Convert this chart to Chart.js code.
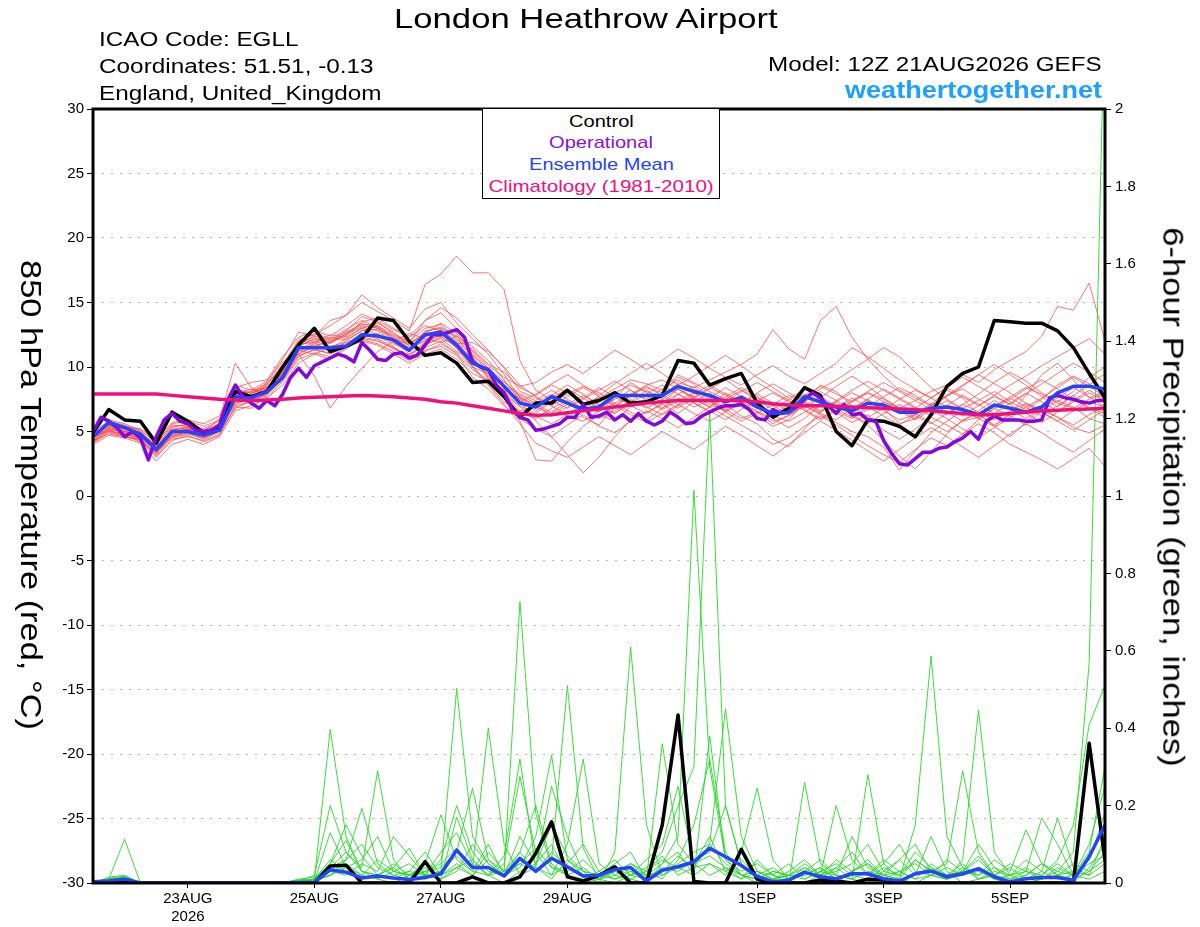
<!DOCTYPE html>
<html>
<head>
<meta charset="utf-8">
<title>London Heathrow Airport - GEFS plume</title>
<script src="https://cdn.jsdelivr.net/npm/chart.js@4.4.0/dist/chart.umd.min.js"></script>
<style>
  html, body { margin: 0; padding: 0; background: #fff; }
  #wrap { position: relative; width: 1200px; height: 927px; overflow: hidden; font-family: "Liberation Sans", Arial, sans-serif; }
  #chart { position: absolute; left: 0; top: 0; }
  .lbl { position: absolute; white-space: nowrap; color: #000; }
  #legendBox { position: absolute; left: 482px; top: 108px; width: 236px; height: 89px; border: 1.5px solid #000; background: #fff; }
</style>
</head>
<body>
<div id="wrap">
  <canvas id="chart" width="1200" height="927"></canvas>
  <div id="legendBox"></div>
  <div class="lbl" id="title">London Heathrow Airport</div>
  <div class="lbl" id="icao">ICAO Code: EGLL</div>
  <div class="lbl" id="coords">Coordinates: 51.51, -0.13</div>
  <div class="lbl" id="region">England, United_Kingdom</div>
  <div class="lbl" id="model">Model: 12Z 21AUG2026 GEFS</div>
  <div class="lbl" id="site">weathertogether.net</div>
  <div class="lbl" id="legControl">Control</div>
  <div class="lbl" id="legOper">Operational</div>
  <div class="lbl" id="legMean">Ensemble Mean</div>
  <div class="lbl" id="legClim">Climatology (1981-2010)</div>
  <div class="lbl" id="yTitle">850 hPa Temperature (red, °C)</div>
  <div class="lbl" id="y2Title">6-hour Precipitation (green, inches)</div>
</div>
<script>
// forecast hours of the date ticks (00Z) and their labels
const tickHours = [36, 84, 132, 180, 252, 300, 348];
const tickLabels = [['23AUG', '2026'], '25AUG', '27AUG', '29AUG', '1SEP', '3SEP', '5SEP'];

// 850 hPa temperature, 6-hourly from 12Z 21AUG
const controlTemp = [4.9,6.7,5.9,5.8,4.1,6.5,5.8,4.9,5.3,
  8.1,7.7,8.1,10.0,11.7,13.0,11.2,11.6,12.2,13.8,13.6,12.0,10.9,11.1,
  10.3,8.8,8.9,7.7,6.1,7.2,7.2,8.2,7.1,7.4,8.0,7.2,7.3,7.8,10.5,10.3,8.6,9.1,9.5,7.2,6.1,6.8,
  8.4,7.8,5.0,3.9,5.9,5.8,5.4,4.6,6.3,8.5,9.5,10.0,13.6,13.5,13.4,13.4,12.8,11.5,9.5,7.6];

const meanTemp = [4.6,5.7,5.3,4.8,3.6,5.0,5.0,4.7,5.1,
  7.7,7.6,8.1,9.2,11.5,11.5,11.5,11.6,12.5,12.4,12.1,11.3,12.5,12.7,
  11.7,10.3,9.8,8.5,7.2,6.9,7.7,7.2,6.7,6.9,7.8,7.8,7.8,7.8,8.5,8.1,7.8,7.3,7.65,6.9,6.4,6.5,
  7.7,7.3,6.9,6.6,7.2,7.05,6.5,6.5,6.8,6.9,6.7,6.3,7.05,6.8,6.5,6.9,8.0,8.5,8.5,8.3];

const climTemp = [7.9,7.9,7.9,7.9,7.9,7.8,7.7,7.6,7.5,
  7.45,7.4,7.45,7.5,7.6,7.65,7.7,7.75,7.8,7.75,7.7,7.6,7.5,7.3,
  7.2,7.0,6.8,6.6,6.4,6.25,6.3,6.45,6.6,6.75,6.9,7.05,7.2,7.3,7.4,7.4,7.4,7.4,7.4,7.3,7.15,7.05,
  7.0,7.0,6.95,6.9,6.85,6.8,6.75,6.7,6.6,6.5,6.4,6.3,6.3,6.4,6.5,6.6,6.65,6.7,6.75,6.8];

// operational run, 3-hourly
const operTemp = [5.0,6.1,5.8,5.3,4.6,5.0,4.5,2.8,4.6,5.9,6.4,5.8,5.6,5.1,5.0,
  5.1,5.5,7.4,8.6,7.7,7.2,6.8,7.4,7.0,7.9,9.2,9.9,9.2,10.1,10.4,
  10.7,11.0,10.8,10.4,11.9,11.3,10.6,10.5,11.0,11.1,10.7,10.9,11.7,12.5,12.5,
  12.7,12.9,12.3,10.4,10.0,9.8,8.6,8.0,6.7,6.1,5.9,5.1,5.2,5.4,5.6,
  6.1,6.1,7.1,6.1,6.2,6.5,5.9,6.3,5.8,6.4,5.8,5.5,5.8,6.5,6.1,
  5.6,5.7,6.2,6.5,6.8,7.0,7.0,7.1,6.7,6.0,5.9,6.7,6.4,6.5,
  6.9,7.5,8.0,7.6,7.0,6.4,7.1,6.3,6.4,5.9,5.8,4.3,3.3,2.5,2.4,
  2.9,3.4,3.4,3.7,3.8,4.2,4.5,5.0,4.4,5.8,6.2,5.9,5.9,5.9,5.8,
  5.8,5.9,7.6,7.8,7.6,7.5,7.3,7.2,7.4,7.4];

// ensemble members, 6-hourly
const memberTemp = [
  [4.2,5.0,4.8,4.5,3.2,4.6,4.9,4.4,5.0, 7.2,7.5,8.3,9.8,11.9,12.3,11.8,12.6,13.4,13.0,12.4,11.9,13.6,14.2,
   13.0,11.0,9.6,8.0,6.5,6.0,6.8,7.4,6.1,5.5,6.9,7.8,8.4,8.0,9.2,8.7,7.6,6.8,7.3,6.2,5.4,5.9,
   7.3,8.6,8.1,7.0,6.1,6.8,5.6,6.0,7.1,8.2,7.6,6.3,5.5,6.4,7.8,9.4,10.3,9.0,7.6,8.1],
  [4.8,5.4,5.1,4.6,3.9,5.3,5.6,5.2,5.8, 8.0,7.4,8.6,10.2,12.1,12.5,13.2,14.0,15.0,14.3,13.6,12.8,16.4,17.2,
   18.6,17.3,17.3,16.0,10.5,8.2,7.4,8.1,7.0,6.5,7.6,8.8,8.0,7.2,8.3,7.5,6.9,8.0,7.2,6.6,5.8,6.2,
   7.0,6.4,5.9,6.8,7.5,6.6,5.9,6.3,7.2,6.5,5.8,6.1,7.0,7.6,6.9,6.2,7.0,7.8,6.8,6.4],
  [4.0,4.7,4.5,4.1,2.7,4.0,4.4,4.0,4.6, 6.6,7.0,7.6,8.6,10.3,11.0,10.6,11.4,12.2,12.0,11.5,10.8,11.3,11.6,
   10.9,9.8,9.0,7.6,5.8,2.8,2.7,4.2,5.4,6.3,5.8,6.9,7.4,6.8,7.9,8.5,7.4,6.6,7.8,7.2,6.0,5.3,
   6.0,7.1,6.5,5.7,6.3,5.1,4.4,5.2,6.1,5.5,4.8,5.9,6.8,6.2,5.5,6.6,7.4,6.9,6.0,5.6],
  [4.5,5.3,5.0,4.7,3.4,4.8,5.1,4.8,5.4, 7.4,7.9,8.8,10.4,11.0,9.3,6.8,8.5,9.9,11.2,12.0,12.6,12.2,11.9,
   12.4,11.6,10.5,9.0,7.4,5.8,4.6,3.2,1.8,3.0,4.6,5.9,6.5,7.1,6.4,7.3,8.0,7.1,6.2,5.6,4.4,3.8,
   5.2,6.5,7.3,6.2,5.5,4.3,3.1,2.1,3.4,4.8,5.9,6.4,5.4,4.6,5.7,6.8,6.1,5.3,4.9,5.5],
  [4.4,5.8,5.5,5.0,3.8,5.2,5.3,5.0,5.5, 8.3,8.0,8.4,9.6,11.6,12.2,12.0,12.8,13.9,13.5,12.6,12.0,13.0,13.3,
   12.1,11.4,10.2,9.6,8.4,7.8,8.6,8.0,7.2,7.6,8.3,9.0,8.7,8.2,9.4,8.8,8.1,7.5,8.2,7.6,7.0,7.2,
   7.8,8.5,7.9,7.3,8.0,7.5,6.8,7.4,8.1,8.6,9.4,8.8,9.8,10.5,11.2,12.4,14.7,14.4,16.5,12.0],
  [4.9,5.6,5.3,4.9,4.0,5.5,5.4,4.9,5.2, 7.9,8.3,8.0,9.0,11.2,11.8,12.3,12.1,12.8,13.2,12.3,11.5,12.0,12.4,
   11.5,10.0,9.5,8.8,7.9,7.4,8.2,7.5,6.8,7.4,8.0,8.6,8.1,7.6,8.8,8.4,9.0,9.6,10.2,11.0,12.9,11.4,
   10.6,13.6,14.7,12.3,10.6,9.3,8.2,7.6,7.0,7.8,8.3,7.5,6.9,7.7,8.4,7.9,7.2,6.8,7.5,7.9],
  [4.3,5.2,4.9,4.3,3.0,4.4,4.6,4.3,4.8, 6.9,6.8,7.8,9.1,10.9,11.3,11.1,12.0,12.8,12.9,12.1,11.0,11.9,12.5,
   11.8,11.9,11.2,10.0,8.6,7.7,7.0,6.2,5.8,6.6,7.2,6.5,5.9,6.8,7.6,6.9,7.4,6.7,6.0,6.5,5.6,6.3,
   7.0,6.3,5.7,5.0,4.6,3.8,2.0,3.5,4.9,5.8,6.6,6.0,5.4,6.3,7.1,6.5,5.8,6.6,7.3,6.9],
  [4.7,5.5,5.2,4.8,3.7,5.1,5.3,4.9,5.3, 7.6,8.1,8.5,9.4,11.7,12.0,11.6,11.9,12.4,12.6,11.8,11.2,12.8,13.0,
   12.3,10.8,9.2,8.0,7.0,6.4,7.3,7.9,8.5,8.0,7.2,7.9,8.6,9.0,8.3,7.7,8.4,7.8,7.1,6.5,6.1,6.9,
   7.6,8.3,9.0,9.8,10.6,11.5,10.8,9.6,8.4,7.5,6.8,7.4,8.1,7.3,6.7,7.5,8.6,9.3,8.7,7.8],
  [4.1,4.9,4.6,4.4,3.1,4.3,4.7,4.2,4.7, 7.0,7.3,8.0,9.3,11.0,11.6,11.4,12.2,13.0,12.5,11.6,10.6,11.5,12.0,
   11.0,9.2,8.3,7.0,6.0,5.2,4.6,5.5,6.3,5.4,4.9,5.8,6.6,6.0,5.3,6.1,6.9,6.2,5.5,4.8,4.0,4.5,
   5.4,6.2,5.5,4.7,3.9,3.2,2.6,3.6,4.5,3.9,4.8,5.6,4.9,4.0,3.4,2.8,2.1,2.9,3.7,2.3],
  [4.6,5.9,5.6,5.1,4.2,5.6,5.8,5.4,5.9, 8.4,8.8,9.0,10.8,12.3,12.8,12.4,13.2,14.1,13.6,12.9,12.3,13.2,12.8,
   11.4,10.1,8.7,7.3,6.6,6.9,7.8,8.6,7.9,7.0,6.4,7.3,8.2,7.5,6.8,7.6,8.3,9.0,8.2,7.4,6.7,7.5,
   8.3,7.6,6.8,6.1,6.9,7.7,8.4,7.8,7.0,6.3,7.1,7.9,8.8,9.6,8.9,8.0,7.3,8.1,9.2,10.0],
  [4.5,5.1,4.7,4.2,3.3,4.9,5.2,5.0,6.0, 10.3,8.4,7.6,8.9,10.6,11.1,10.8,11.5,12.0,11.7,11.0,10.3,11.0,11.4,
   10.6,9.5,8.9,8.2,7.6,7.1,6.5,7.3,6.7,6.0,6.6,7.4,6.9,6.3,7.0,7.7,7.1,6.6,7.3,6.8,6.2,5.8,
   6.5,7.2,6.6,6.0,6.7,7.3,6.8,6.2,5.6,6.4,7.1,6.5,5.9,6.6,7.2,6.7,6.1,5.5,6.3,7.0],
  [5.0,5.8,5.4,5.2,4.4,5.7,5.9,5.6,6.2, 8.6,8.2,8.9,10.6,12.7,12.4,13.6,14.0,15.6,14.6,13.8,13.0,14.5,15.0,
   13.4,12.2,11.0,9.4,7.6,6.8,7.6,8.3,7.6,6.8,7.5,8.2,7.4,6.7,7.4,8.0,7.3,6.5,5.8,6.4,7.1,7.8,
   7.2,6.5,7.3,8.0,7.4,6.7,7.5,8.2,7.6,6.9,6.2,7.0,7.7,7.1,6.4,5.7,6.5,7.3,8.0,7.4],
  [4.3,5.3,4.9,4.6,3.5,4.5,4.8,4.5,5.0, 7.3,7.7,8.2,9.0,11.4,11.9,12.5,12.3,13.0,13.4,12.7,11.6,12.3,12.9,
   12.0,10.9,9.9,8.3,7.3,7.0,6.2,6.9,7.6,8.4,7.7,7.0,6.4,7.2,7.9,7.2,6.6,5.9,6.7,7.4,8.0,7.3,
   6.6,5.9,6.6,7.4,8.1,8.8,8.1,7.4,6.7,6.0,5.2,4.5,5.3,6.1,6.9,7.6,8.4,9.2,8.5,7.7],
  [4.7,5.0,4.6,4.4,3.6,4.7,5.0,4.7,5.1, 7.5,7.2,7.9,9.5,11.1,11.6,12.0,12.5,13.1,12.8,11.9,11.3,12.1,12.6,
   11.9,10.4,9.6,8.6,7.8,7.2,7.9,7.3,6.6,7.3,8.1,7.5,6.8,7.5,8.3,7.6,6.9,7.7,8.4,7.7,7.0,6.3,
   7.0,7.7,7.0,6.3,5.6,6.4,7.1,6.4,5.7,5.0,5.8,6.6,7.4,6.7,6.0,6.8,7.6,8.4,7.7,6.9],
  [4.4,5.6,5.3,4.9,3.9,5.0,5.1,4.8,5.2, 7.8,7.7,8.2,9.2,11.8,11.9,11.2,11.7,12.6,12.2,11.5,10.9,11.8,12.2,
   11.2,10.6,9.4,8.4,7.5,6.6,7.4,6.8,7.5,8.2,8.9,8.2,7.5,8.3,9.0,8.3,7.6,8.4,7.7,7.0,6.3,7.1,
   7.9,7.2,6.5,7.3,8.0,7.3,6.6,5.9,6.7,7.4,6.7,6.0,6.8,7.5,8.3,9.0,8.3,7.5,6.8,6.1],
  [4.6,5.4,5.2,4.8,3.3,4.7,5.0,4.6,5.4, 7.1,7.6,8.7,9.9,12.0,12.6,12.2,12.9,13.6,13.1,12.2,11.7,12.6,13.4,
   12.6,11.2,9.9,8.9,7.7,6.9,6.4,7.1,7.8,7.1,6.4,7.2,7.9,8.6,7.9,7.2,6.5,7.3,8.1,8.8,8.1,7.4,
   6.7,6.0,6.8,7.6,6.9,6.2,5.5,6.3,7.0,7.8,8.6,9.4,8.7,8.0,7.2,6.5,5.8,5.1,5.9,6.7],
  [4.2,5.1,4.8,4.5,3.7,4.9,5.2,4.7,5.1, 7.7,7.8,8.1,9.6,11.3,11.0,11.5,11.8,12.3,12.1,11.4,10.9,11.7,12.3,
   11.6,10.7,9.1,7.9,6.9,6.2,5.6,6.3,7.0,7.7,7.0,6.3,5.7,6.4,7.1,6.4,5.8,6.5,7.2,7.9,7.2,6.6,
   7.3,8.1,7.4,6.7,7.5,8.3,7.6,6.9,6.2,7.0,7.8,7.1,6.4,7.2,8.0,7.3,6.6,7.4,8.2,7.5],
  [4.8,5.7,5.4,5.1,4.1,5.4,5.5,5.1,5.6, 8.1,8.0,8.3,9.7,11.9,12.1,11.9,12.4,13.5,13.8,13.0,12.4,13.6,14.6,
   13.8,12.5,11.3,9.9,8.1,7.6,7.0,7.7,8.4,7.7,7.0,7.8,8.5,7.8,7.1,7.9,8.6,7.9,7.2,8.0,8.7,8.0,
   7.3,6.6,7.4,8.2,8.9,8.2,7.5,6.8,7.6,8.4,7.7,7.0,7.8,8.6,9.3,10.1,10.8,11.5,12.2,11.0],
  [4.5,5.5,5.0,4.7,3.5,5.0,5.2,4.9,5.4, 7.8,7.9,8.4,9.5,11.4,11.7,11.9,12.6,13.2,13.0,12.2,11.8,12.7,13.1,
   12.4,11.3,10.1,9.2,8.5,8.8,9.6,10.2,9.5,10.4,11.3,10.6,9.8,10.5,11.4,10.7,9.9,9.2,8.6,9.4,10.1,9.3,
   8.7,9.5,10.3,11.5,10.8,9.9,9.0,8.3,7.6,8.4,9.2,8.5,7.8,7.1,7.9,8.7,9.5,10.3,9.6,8.8],
  [4.3,4.8,4.6,4.3,3.4,4.6,4.9,4.5,5.0, 6.8,7.4,7.9,9.0,10.8,11.4,11.0,11.6,12.1,11.8,11.2,10.5,11.2,11.8,
   11.1,10.0,8.6,7.1,5.6,4.1,3.5,3.0,3.8,4.6,3.9,3.2,4.1,5.0,4.3,3.6,4.5,5.4,4.7,3.9,3.1,4.0,
   4.9,5.8,5.1,4.3,3.5,2.7,3.6,4.5,5.3,4.6,3.8,3.0,3.9,4.8,5.6,4.9,4.1,3.4,4.3,5.2],
  [4.6,5.2,5.0,4.6,3.8,5.1,5.4,5.0,5.5, 7.9,8.1,8.7,10.0,11.8,12.4,12.1,12.7,13.3,13.2,12.5,11.9,12.4,12.9,
   11.9,10.7,9.3,8.1,7.3,7.9,8.7,9.4,8.6,7.8,8.7,9.5,10.3,9.5,8.6,9.3,10.1,10.9,10.1,9.2,8.4,7.6,
   6.8,7.6,8.5,9.3,8.5,7.6,6.8,6.0,6.9,7.7,8.5,9.4,10.2,9.4,8.6,7.7,6.9,7.8,8.6,9.5]
];

// 6-hour precipitation (inches)
const controlPrecip = [0,0,0.004,0,0,0,0,0,0,
  0,0,0,0,0,0,0.044,0.046,0,0,0,0,0.055,0,
  0,0.016,0,0,0.016,0.077,0.158,0.016,0.005,0.02,0.042,0,0,0.15,0.434,0.004,0,0,0.087,0.01,0,0,
  0,0.008,0.005,0,0.01,0.008,0,0,0,0,0,0,0,0,0,0,0,0,0.361,0.059];

const meanPrecip = [0.003,0.005,0.01,0,0,0,0,0,0,
  0,0,0,0,0.001,0.002,0.034,0.028,0.013,0.018,0.013,0.009,0.014,0.024,
  0.085,0.04,0.04,0.018,0.064,0.03,0.064,0.042,0.018,0.02,0.035,0.04,0.005,0.033,0.042,0.055,0.09,0.068,0.045,0.017,0.003,0.007,
  0.028,0.016,0.011,0.024,0.024,0.011,0.005,0.024,0.031,0.016,0.024,0.037,0.016,0.003,0.011,0.014,0.014,0.007,0.068,0.15];

const memberPrecip = [
  [0,0.01,0.113,0,0,0,0,0,0, 0,0,0,0,0,0.01,0.397,0.12,0.03,0.01,0,0.02,0.04,0.01,
   0.17,0.06,0.02,0,0.03,0.05,0.1,0.02,0,0.01,0.03,0.01,0,0.05,0.12,1.015,0.3,0.06,0.02,0,0.01,0,
   0,0.02,0.04,0.01,0,0.03,0.06,0.02,0.12,0.03,0,0.01,0.02,0,0,0.01,0.03,0.02,0.08,0.3],
  [0,0.015,0.02,0,0,0,0,0,0, 0,0,0,0,0.005,0.02,0.2,0.08,0.04,0.29,0.06,0.01,0.03,0.05,
   0.09,0.04,0.4,0.1,0.02,0.04,0.01,0.06,0.03,0,0.08,0.61,0.15,0.02,0.05,0.08,0.1,0.45,0.12,0.03,0.01,0.02,
   0.04,0.01,0,0.03,0.05,0.01,0,0.02,0.04,0.01,0.06,0.447,0.08,0.02,0,0.01,0.02,0,0.04,0.1],
  [0,0.01,0.015,0,0,0,0,0,0, 0,0,0,0,0,0.01,0.05,0.15,0.07,0.02,0.04,0.09,0.02,0.03,
   0.503,0.12,0.05,0.02,0.08,0.03,0.06,0.51,0.09,0.01,0,0.02,0.04,0.08,0.2,0.3,1.22,0.2,0.05,0.01,0,0.01,
   0.03,0.06,0.02,0.01,0.28,0.05,0.01,0,0.02,0.01,0.03,0.07,0.02,0,0.01,0.03,0.01,0.02,0.1,0.25],
  [0,0.005,0.01,0,0,0,0,0,0, 0,0,0,0,0.01,0.015,0.04,0.06,0.193,0.05,0.02,0.01,0.06,0.02,
   0.05,0.02,0.08,0.03,0.727,0.18,0.04,0.02,0.01,0.03,0.06,0.02,0.01,0.36,0.1,0.05,0.12,0.03,0.01,0.06,0.02,0,
   0.26,0.05,0.02,0.01,0.03,0.02,0.06,0.1,0.03,0.01,0.02,0.04,0.01,0,0.02,0.05,0.03,0.08,0.57,2.3],
  [0,0.01,0.01,0,0,0,0,0,0, 0,0,0,0,0,0.005,0.13,0.04,0.02,0.06,0.03,0.02,0.05,0.176,
   0.06,0.03,0.02,0.05,0.275,0.08,0.02,0.1,0.32,0.05,0.02,0.01,0.03,0.07,0.02,0.04,0.05,0.02,0.08,0.245,0.06,0.01,
   0.02,0.04,0.01,0.03,0.06,0.02,0.01,0.15,0.587,0.12,0.04,0.01,0.02,0.05,0.03,0.168,0.1,0.02,0.01,0.03],
  [0,0.01,0.012,0,0,0,0,0,0, 0,0,0,0,0,0.01,0.05,0.11,0.03,0.02,0.05,0.02,0.03,0.04,
   0.08,0.245,0.06,0.02,0.04,0.12,0.33,0.06,0.02,0.01,0.04,0.02,0.06,0.1,0.25,0.05,0.02,0.04,0.01,0.03,0.02,0.05,
   0.01,0.03,0.05,0.02,0.01,0.04,0.02,0.06,0.03,0.05,0.29,0.08,0.02,0.04,0.01,0.02,0.06,0.15,0.41,0.51],
  [0,0.008,0.01,0,0,0,0,0,0, 0,0,0,0,0,0,0.03,0.02,0.05,0.03,0.12,0.07,0.02,0.01,
   0.04,0.02,0.06,0.03,0.08,0.2,0.05,0.02,0.04,0.01,0.02,0.05,0.03,0.01,0.06,0.15,0.32,0.08,0.02,0.01,0.03,0.02,
   0.05,0.02,0.2,0.06,0.02,0.01,0.03,0.05,0.02,0.01,0.04,0.02,0.06,0.03,0.137,0.05,0.02,0.01,0.03,0.06],
  [0,0.01,0.015,0,0,0,0,0,0, 0,0,0,0,0.005,0.01,0.02,0.06,0.1,0.04,0.02,0.03,0.02,0.08,
   0.13,0.05,0.02,0.07,0.32,0.04,0.25,0.12,0.03,0.02,0.01,0.03,0.02,0.05,0.08,0.02,0.38,0.06,0.03,0.05,0.02,0.01,
   0.03,0.01,0.04,0.08,0.02,0.06,0.03,0.01,0.05,0.02,0.03,0.1,0.04,0.02,0.06,0.03,0.168,0.04,0.02,0.12],
  [0,0.005,0.01,0,0,0,0,0,0, 0,0,0,0,0,0.005,0.02,0.05,0.02,0.01,0.03,0.02,0.01,0.03,
   0.07,0.03,0.1,0.02,0.05,0.03,0.08,0.04,0.02,0.01,0.03,0.05,0.02,0.03,0.07,0.04,0.1,0.05,0.02,0.01,0.03,0.02,
   0.02,0.04,0.01,0.03,0.05,0.02,0.01,0.06,0.03,0.02,0.05,0.01,0.03,0.02,0.04,0.01,0.02,0.05,0.03,0.08],
  [0,0.012,0.018,0,0,0,0,0,0, 0,0,0,0,0.008,0.01,0.06,0.03,0.01,0.02,0.04,0.01,0.02,0.06,
   0.2,0.08,0.03,0.02,0.12,0.05,0.15,0.07,0.03,0.02,0.05,0.08,0.01,0.04,0.03,0.06,0.08,0.2,0.05,0.02,0.01,0.03,
   0.06,0.02,0.03,0.05,0.1,0.03,0.02,0.08,0.04,0.02,0.03,0.06,0.02,0.01,0.03,0.02,0.05,0.02,0.06,0.18],
  [0,0.01,0.01,0,0,0,0,0,0, 0,0,0,0,0,0.01,0.04,0.08,0.03,0.02,0.01,0.03,0.08,0.02,
   0.04,0.06,0.02,0.03,0.05,0.09,0.04,0.03,0.06,0.02,0.04,0.03,0.01,0.02,0.04,0.05,0.07,0.04,0.02,0.03,0.01,0.02,
   0.01,0.03,0.02,0.12,0.04,0.02,0.03,0.01,0.02,0.04,0.02,0.03,0.01,0.02,0.03,0.01,0.04,0.02,0.05,0.07],
  [0,0.006,0.012,0,0,0,0,0,0, 0,0,0,0,0,0.004,0.02,0.04,0.06,0.12,0.03,0.05,0.02,0.01,
   0.03,0.1,0.05,0.02,0.06,0.04,0.02,0.05,0.1,0.03,0.01,0.02,0.03,0.06,0.04,0.02,0.05,0.03,0.06,0.02,0.04,0.01,
   0.04,0.02,0.06,0.03,0.02,0.05,0.1,0.03,0.02,0.06,0.03,0.02,0.04,0.01,0.02,0.05,0.02,0.03,0.02,0.05]
];

const FONT = '"Liberation Sans", Arial, sans-serif';

// turn a value list into points on the hour axis
function series(values, step) {
  return values.map((v, i) => ({ x: i * step, y: v }));
}

function thick(label, values, step, color, axis) {
  return {
    label, data: series(values, step), yAxisID: axis,
    borderColor: color, borderWidth: 3.5, borderJoinStyle: 'round', borderCapStyle: 'round'
  };
}

const datasets = [
  thick('Climatology', climTemp, 6, '#f0107c', 'y'),
  thick('Ensemble Mean', meanTemp, 6, '#2343ff', 'y'),
  thick('Operational', operTemp, 3, '#8208dc', 'y'),
  thick('Control', controlTemp, 6, '#000000', 'y'),
  thick('Mean precip', meanPrecip, 6, '#2343ff', 'y2'),
  thick('Control precip', controlPrecip, 6, '#000000', 'y2')
];
memberPrecip.forEach((m, k) => {
  datasets.push({ label: 'p' + k, data: series(m, 6), yAxisID: 'y2', borderColor: 'rgba(40,215,40,0.9)', borderWidth: 1 });
});
memberTemp.forEach((m, k) => {
  datasets.push({ label: 't' + k, data: series(m, 6), yAxisID: 'y', borderColor: 'rgba(255,70,70,0.75)', borderWidth: 1 });
});

// thick frame round the plot
const framePlugin = {
  id: 'frame',
  afterDatasetsDraw(chart) {
    const a = chart.chartArea, ctx = chart.ctx;
    ctx.save();
    ctx.strokeStyle = '#000';
    ctx.lineWidth = 3;
    ctx.strokeRect(a.left, a.top, a.right - a.left, a.bottom - a.top);
    ctx.restore();
  }
};

const tickFont = { family: FONT, size: 15 };

new Chart(document.getElementById('chart').getContext('2d'), {
  type: 'line',
  data: { datasets },
  plugins: [framePlugin],
  options: {
    responsive: false,
    animation: false,
    events: [],
    layout: { padding: { top: 109, left: 0, right: 0, bottom: 0 } },
    elements: { point: { radius: 0 }, line: { tension: 0, fill: false } },
    plugins: { legend: { display: false }, tooltip: { enabled: false }, title: { display: false } },
    scales: {
      x: {
        type: 'linear', min: 0, max: 384,
        afterBuildTicks: s => { s.ticks = tickHours.map(v => ({ value: v })); },
        afterFit: s => { s.height = 44; },
        ticks: {
          autoSkip: false, maxRotation: 0, color: '#000', font: tickFont, padding: 2,
          callback: v => { const k = tickHours.indexOf(v); return k < 0 ? '' : tickLabels[k]; }
        },
        grid: { drawOnChartArea: false, drawTicks: true, tickLength: 5, tickColor: '#000', tickWidth: 1 },
        border: { display: false }
      },
      y: {
        position: 'left', min: -30, max: 30,
        afterFit: s => { s.width = 93; },
        ticks: { stepSize: 5, color: '#000', font: tickFont, padding: 3 },
        grid: { color: '#b4b4b4', lineWidth: 1, drawTicks: true, tickLength: 6, tickColor: '#000', tickWidth: 1 },
        border: { display: false, dash: [2, 7] }
      },
      y2: {
        position: 'right', min: 0, max: 2,
        afterFit: s => { s.width = 95; },
        ticks: { stepSize: 0.2, color: '#000', font: tickFont, padding: 4,
          callback: v => String(Number(v.toFixed(1))) },
        grid: { drawOnChartArea: false, drawTicks: true, tickLength: 6, tickColor: '#000', tickWidth: 1 },
        border: { display: false }
      }
    }
  }
});

// HTML text, stretched to the widths of the original lettering
function place(id, o) {
  const el = document.getElementById(id);
  el.style.fontSize = o.size + 'px';
  el.style.lineHeight = o.size + 'px';
  el.style.fontFamily = FONT;
  if (o.bold) el.style.fontWeight = 'bold';
  if (o.color) el.style.color = o.color;
  const w = el.offsetWidth;
  const s = o.width / w;
  if (o.rotate) {
    el.style.left = (o.x - w / 2) + 'px';
    el.style.top = (o.y - o.size / 2) + 'px';
    el.style.transformOrigin = 'center center';
    el.style.transform = 'rotate(90deg) scaleX(' + s + ')';
    return;
  }
  let left = o.x;
  if (o.align === 'center') left = o.x - w / 2;
  if (o.align === 'right') left = o.x - w;
  el.style.left = left + 'px';
  el.style.top = (o.y - 0.8465 * o.size) + 'px';
  el.style.transformOrigin = (o.align || 'left') + ' center';
  el.style.transform = 'scaleX(' + s + ')';
}

place('title', { x: 394, y: 29, size: 28, width: 384 });
place('icao', { x: 99, y: 46, size: 20, width: 200 });
place('coords', { x: 99, y: 73, size: 20, width: 275 });
place('region', { x: 99, y: 100, size: 20, width: 282 });
place('model', { x: 1102, y: 71, size: 20, width: 334, align: 'right' });
place('site', { x: 1102, y: 98, size: 24, width: 257, align: 'right', bold: true, color: '#1ea0ff' });
place('legControl', { x: 601, y: 127, size: 17, width: 65, align: 'center' });
place('legOper', { x: 601, y: 148, size: 17, width: 104, align: 'center', color: '#8a10d8' });
place('legMean', { x: 601, y: 170, size: 17, width: 145, align: 'center', color: '#2343ff' });
place('legClim', { x: 601, y: 192, size: 17, width: 225, align: 'center', color: '#ee1080' });
place('yTitle', { x: 31, y: 495, size: 30, width: 470, rotate: true });
place('y2Title', { x: 1173, y: 497, size: 30, width: 540, rotate: true });
</script>
</body>
</html>
